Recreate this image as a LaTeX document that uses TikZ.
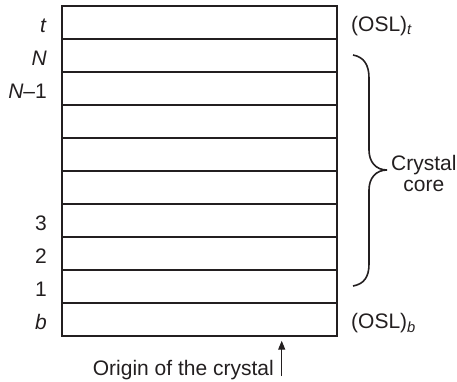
\documentclass[tikz,border=0pt]{standalone}
\usepackage{fontspec}
\setmainfont{Liberation Sans}
\usetikzlibrary{arrows.meta}
\definecolor{ink}{HTML}{231F20}
\begin{document}
\begin{tikzpicture}[x=1pt,y=-1pt,
  layer/.style={draw=ink, line width=2.3pt, minimum width=275pt, minimum height=33pt,
    inner sep=0pt, outer sep=0pt, anchor=north west},
  lbl/.style={font=\fontsize{21}{21}\selectfont, inner sep=0pt, text=ink},
  leftlbl/.style={lbl, anchor=base east},
  rightlbl/.style={lbl, anchor=base west},
  bracepath/.style={draw=ink, line width=1.6pt},
  pointer/.style={draw=ink, line width=1.3pt, -{Triangle[length=9pt,width=7pt]}},
]
\useasboundingbox (0,0) rectangle (457,381);

% the stack of layers, from the top (t) down to the bottom (b)
\foreach \i in {0,...,9}
  \node[layer] (row\i) at (62, 6+33*\i) {};

% layer labels on the left
\node[leftlbl] (lt)  at ([xshift=-15pt, yshift=-10pt]row0.west) {\textit{t}};
\node[leftlbl] (lN)  at ([xshift=-15pt, yshift=-10pt]row1.west) {\textit{N}};
\node[leftlbl] (lN1) at ([xshift=-15pt, yshift=-10pt]row2.west) {\textit{N}–1};
\node[leftlbl] (l3)  at ([xshift=-15pt, yshift=-10pt]row6.west) {3};
\node[leftlbl] (l2)  at ([xshift=-15pt, yshift=-10pt]row7.west) {2};
\node[leftlbl] (l1)  at ([xshift=-15pt, yshift=-10pt]row8.west) {1};
\node[leftlbl] (lb)  at ([xshift=-15pt, yshift=-10pt]row9.west) {\textit{b}};

% surface layers on the right
\node[rightlbl] (osltop) at ([xshift=14pt, yshift=-9pt]row0.east) {(OSL)\textsubscript{\textit{t}}};
\node[rightlbl] (oslbot) at ([xshift=14pt, yshift=-9pt]row9.east) {(OSL)\textsubscript{\textit{b}}};

% brace spanning the core layers
\coordinate (bracetip) at (387,170);
\draw[bracepath] (353,55) .. controls (364,57) and (369,65) .. (369,78) -- (369,150)
  .. controls (369,162) and (376,170) .. (bracetip)
  .. controls (376,170) and (369,178) .. (369,190) -- (369,264)
  .. controls (369,277) and (364,284) .. (353,286);
\node[lbl, align=center, anchor=west] (core) at ([xshift=4pt, yshift=-3pt]bracetip) {Crystal\\core};

% origin marker below the stack
\node[lbl, anchor=base east] (origin) at (274,375) {Origin of the crystal};
\coordinate (arrowfoot) at (281.7,376);
\draw[pointer, shorten >=4.7pt] (arrowfoot) -- (arrowfoot |- row9.south);
\end{tikzpicture}
\end{document}
